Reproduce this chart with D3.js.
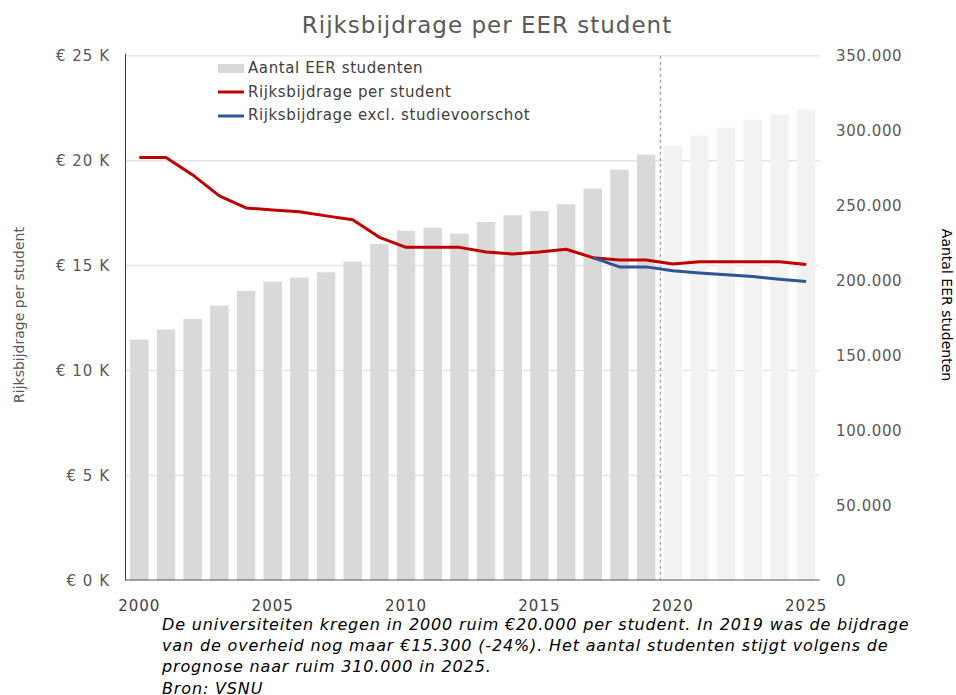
<!DOCTYPE html>
<html><head><meta charset="utf-8">
<script src="https://cdn.jsdelivr.net/npm/d3@7"></script>
<style>
body{margin:0;background:#fff;}
svg{display:block;font-family:"DejaVu Sans",Verdana,sans-serif;}
</style></head>
<body><svg id="c" width="956" height="695"></svg>
<script>
const years = d3.range(2000, 2026);
const students = [160700,167300,174500,183300,193100,199300,202000,205600,212700,224400,233300,235300,231300,239100,243600,246400,250900,261300,274000,284000,290200,296700,302000,307300,310900,314000];
const bijdrage = [20150,20150,19320,18320,17750,17650,17570,17370,17180,16350,15870,15870,15870,15650,15550,15650,15780,15380,15270,15270,15080,15180,15180,15180,15180,15050];
const exclYears = [2017,2018,2019,2020,2021,2022,2023,2024,2025];
const exclValues = [15380,14940,14940,14760,14650,14560,14480,14350,14240];
const leftTicks = [0,5000,10000,15000,20000,25000];
const rightTicks = [0,50000,100000,150000,200000,250000,300000,350000];
const xTickYears = [2000,2005,2010,2015,2020,2025];
const forecastStart = 2020;
const captionLines = [
  "De universiteiten kregen in 2000 ruim €20.000 per student. In 2019 was de bijdrage",
  "van de overheid nog maar €15.300 (-24%). Het aantal studenten stijgt volgens de",
  "prognose naar ruim 310.000 in 2025.",
  "Bron: VSNU"
];

const svg = d3.select("#c");
const L = 126, R = 819.5, T = 55.7, B = 580.5;
const x = d3.scaleBand().domain(years).range([L, R]).paddingInner(0.31).paddingOuter(0.155);
const yL = d3.scaleLinear().domain([0, 25000]).range([B, T]);
const yR = d3.scaleLinear().domain([0, 350000]).range([B, T]);
const cx = d => x(d) + x.bandwidth()/2;

// title
svg.append("text").attr("x", 487).attr("y", 33).attr("text-anchor","middle")
  .attr("font-size", 23).attr("letter-spacing", 1).attr("fill","#595959").text("Rijksbijdrage per EER student");

// gridlines
svg.append("g").selectAll("line").data(leftTicks.filter(d=>d>0)).join("line")
  .attr("x1", L).attr("x2", R).attr("y1", d=>yL(d)).attr("y2", d=>yL(d))
  .attr("stroke","#e6e6e6").attr("stroke-width",1.5);

// bars
svg.append("g").selectAll("rect").data(years).join("rect")
  .attr("x", d=>x(d)).attr("width", x.bandwidth())
  .attr("y", (d,i)=>yR(students[i])).attr("height", (d,i)=>B - yR(students[i]))
  .attr("fill", d=> d >= forecastStart ? "#f2f2f2" : "#d9d9d9");

// dashed forecast separator
const sepX = x(forecastStart) - x.step()*x.paddingInner()/2 + 1;
svg.append("line").attr("x1", sepX).attr("x2", sepX).attr("y1", T).attr("y2", B)
  .attr("stroke","#a6a6a6").attr("stroke-width",1.5).attr("stroke-dasharray","3,3");

// axes lines
svg.append("line").attr("x1", 125.5).attr("x2", 125.5).attr("y1", T-2).attr("y2", B).attr("stroke","#404040").attr("stroke-width",1);
svg.append("line").attr("x1", 125).attr("x2", 820).attr("y1", B-0.5).attr("y2", B-0.5).attr("stroke","#595959").attr("stroke-width",1);

// left axis labels
const fmtL = d => "€ " + (d/1000) + " K";
svg.append("g").selectAll("text").data(leftTicks).join("text")
  .attr("x", 110).attr("y", d=>yL(d)).attr("dy","0.35em").attr("text-anchor","end")
  .attr("font-size", 15).attr("letter-spacing", 1).attr("fill","#595959").text(fmtL);

// right axis labels
const fmtR = d => d === 0 ? "0" : d3.format(",")(d).replace(/,/g, ".");
svg.append("g").selectAll("text").data(rightTicks).join("text")
  .attr("x", 836).attr("y", d=>yR(d)).attr("dy","0.35em").attr("text-anchor","start")
  .attr("font-size", 15).attr("letter-spacing", 0.6).attr("fill","#595959").text(fmtR);

// x axis labels
svg.append("g").selectAll("text").data(xTickYears).join("text")
  .attr("x", d=>cx(d)).attr("y", 611).attr("text-anchor","middle")
  .attr("font-size", 15).attr("letter-spacing", 1).attr("fill","#404040").text(d=>d);

// axis titles
svg.append("text").attr("transform","translate(24,315) rotate(-90)").attr("text-anchor","middle")
  .attr("font-size", 14).attr("fill","#595959").text("Rijksbijdrage per student");
svg.append("text").attr("transform","translate(942,305) rotate(90)").attr("text-anchor","middle")
  .attr("font-size", 14).attr("fill","#000").text("Aantal EER studenten");

// lines
const line = d3.line().x(d=>cx(d[0])).y(d=>yL(d[1]));
svg.append("path").datum(years.map((d,i)=>[d, bijdrage[i]])).attr("d", line)
  .attr("fill","none").attr("stroke","#c00000").attr("stroke-width",3).attr("stroke-linejoin","round");
svg.append("path").datum(exclYears.map((d,i)=>[d, exclValues[i]])).attr("d", line)
  .attr("fill","none").attr("stroke","#2f5597").attr("stroke-width",3).attr("stroke-linejoin","round");

// legend
const lg = svg.append("g");
lg.append("rect").attr("x",218).attr("y",64).attr("width",26).attr("height",9).attr("fill","#d9d9d9");
lg.append("line").attr("x1",218).attr("x2",244).attr("y1",92).attr("y2",92).attr("stroke","#c00000").attr("stroke-width",3);
lg.append("line").attr("x1",218).attr("x2",244).attr("y1",116).attr("y2",116).attr("stroke","#2f5597").attr("stroke-width",3);
const legendLabels = ["Aantal EER studenten","Rijksbijdrage per student","Rijksbijdrage excl. studievoorschot"];
lg.selectAll("text").data(legendLabels).join("text")
  .attr("x", 248).attr("y", (d,i)=>68 + i*23.5).attr("dy","0.35em")
  .attr("font-size", 15).attr("letter-spacing", 0.6).attr("fill","#404040").text(d=>d);

// caption
svg.append("g").selectAll("text").data(captionLines).join("text")
  .attr("x", 162).attr("y", (d,i)=>630 + i*21.2)
  .attr("font-size", 16).attr("letter-spacing", 0.85).attr("font-style","italic").attr("fill","#000").text(d=>d);
</script>
</body></html>
